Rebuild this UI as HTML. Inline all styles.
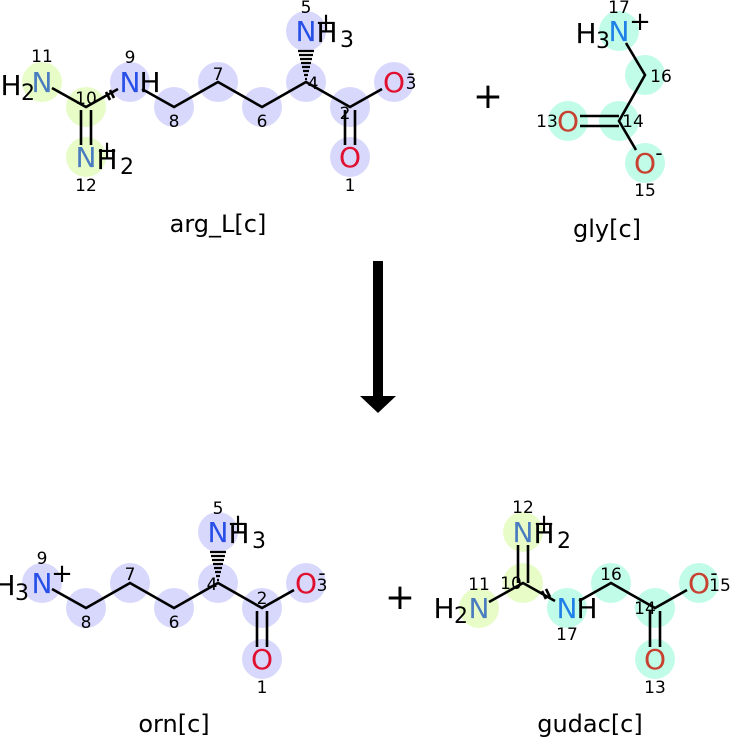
<!DOCTYPE html>
<html><head><style>body{margin:0;background:#fff}svg{display:block}</style></head><body>
<svg width="730" height="739" viewBox="0 0 730 739" xmlns="http://www.w3.org/2000/svg" font-family="DejaVu Sans, Liberation Sans, sans-serif">
<g fill="#d8d8fc">
<circle cx="130" cy="82" r="20"/><circle cx="174" cy="107" r="20"/><circle cx="218" cy="82" r="20"/><circle cx="262" cy="107" r="20"/><circle cx="306" cy="82" r="20"/><circle cx="306" cy="31" r="20"/><circle cx="350" cy="107" r="20"/><circle cx="394" cy="82" r="20"/><circle cx="350" cy="157" r="20"/>
<circle cx="42" cy="583" r="20"/><circle cx="86" cy="608" r="20"/><circle cx="130" cy="583" r="20"/><circle cx="174" cy="608" r="20"/><circle cx="218" cy="583" r="20"/><circle cx="218" cy="532" r="20"/><circle cx="262" cy="608" r="20"/><circle cx="306" cy="583" r="20"/><circle cx="262" cy="659" r="20"/>
</g>
<g fill="#e8fcc8">
<circle cx="42" cy="82" r="20"/><circle cx="86" cy="107" r="20"/><circle cx="86" cy="157" r="20"/>
<circle cx="523" cy="532" r="20"/><circle cx="523" cy="583" r="20"/><circle cx="479" cy="608" r="20"/>
</g>
<g fill="#c0fce8">
<circle cx="619" cy="31" r="20"/><circle cx="645" cy="75" r="20"/><circle cx="619" cy="121" r="20"/><circle cx="568" cy="121" r="20"/><circle cx="645" cy="163" r="20"/>
<circle cx="567" cy="608" r="20"/><circle cx="611" cy="583" r="20"/><circle cx="655" cy="608" r="20"/><circle cx="699" cy="583" r="20"/><circle cx="655" cy="659" r="20"/>
</g>
<g stroke="#000" stroke-width="2.6" fill="none">
<path d="M52 88 L86 107 L118 89"/><path d="M81 110 V145 M91 110 V145"/><path d="M106 92 L110 100 M110 90 L114 98"/>
<path d="M142 89 L174 107 L218 82 L262 107 L306 82 L350 107 L382 89"/><path d="M345 110 V145 M355 110 V145"/>
<path d="M626 43 L645 75 L619 121 L636 150"/><path d="M580 116 H619 M580 126 H619"/>
<path d="M52 589 L86 608 L130 583 L174 608 L218 583 L262 608 L294 590"/><path d="M257 611 V647 M267 611 V647"/>
<path d="M518 545 V583 M528 545 V583"/><path d="M489 602 L523 583 L555 601"/><path d="M542 591 L546 599 M546 589 L550 597"/>
<path d="M579 601 L611 583 L655 608 L687 590"/><path d="M650 611 V647 M660 611 V647"/>
</g>
<g stroke="#000" stroke-width="2.2"><path d="M305 79H307M304 75H308M303 71H309M302 67H310M301 63H311M300 59H312M299 55H313M298 51H314"/>
<path d="M217 580H219M216 576H220M215 572H221M214 568H222M213 564H223M212 560H224M211 556H225M210 552H226"/></g>
<g font-size="28" text-anchor="middle">
<text x="42" y="92" fill="#4a7cc0">N</text><text x="11" y="95" fill="#000">H</text><text x="28" y="100" font-size="22" fill="#000">2</text>
<text x="86" y="167" fill="#4a7cc0">N</text><text x="107" y="169" fill="#000">H</text><text x="127" y="174" font-size="22">2</text><text x="107" y="159" font-size="26">+</text>
<text x="130" y="92" fill="#2850e8">N</text><text x="150" y="92">H</text>
<text x="306" y="41" fill="#2850e8">N</text><text x="327" y="42">H</text><text x="347" y="47" font-size="22">3</text><text x="326" y="31" font-size="26">+</text>
<text x="394" y="92" fill="#e01030">O</text><text x="411" y="80" font-size="20">-</text>
<text x="350" y="167" fill="#e01030">O</text>
<text x="619" y="41" fill="#2080e8">N</text><text x="586" y="43">H</text><text x="603" y="48" font-size="22">3</text><text x="640" y="30" font-size="26">+</text>
<text x="568" y="131" fill="#c84030">O</text>
<text x="645" y="173" fill="#c84030">O</text><text x="659" y="160" font-size="20">-</text>
<text x="42" y="593" fill="#2850e8">N</text><text x="5" y="595">H</text><text x="22" y="600" font-size="22">3</text><text x="62" y="582" font-size="26">+</text>
<text x="218" y="542" fill="#2850e8">N</text><text x="239" y="543">H</text><text x="259" y="548" font-size="22">3</text><text x="238" y="532" font-size="26">+</text>
<text x="306" y="593" fill="#e01030">O</text><text x="322" y="580" font-size="20">-</text>
<text x="262" y="669" fill="#e01030">O</text>
<text x="523" y="542" fill="#4a7cc0">N</text><text x="544" y="543">H</text><text x="564" y="548" font-size="22">2</text><text x="544" y="532" font-size="26">+</text>
<text x="479" y="618" fill="#4a7cc0">N</text><text x="444" y="618">H</text><text x="461" y="623" font-size="22">2</text>
<text x="567" y="618" fill="#2080e8">N</text><text x="587" y="618">H</text>
<text x="699" y="593" fill="#c84030">O</text><text x="714" y="580" font-size="20">-</text>
<text x="655" y="669" fill="#c84030">O</text>
</g>
<g font-size="17" text-anchor="middle" fill="#000">
<text x="42" y="62">11</text><text x="86" y="104">10</text><text x="86" y="191">12</text><text x="130" y="63">9</text><text x="174" y="127">8</text><text x="218" y="80">7</text><text x="262" y="127">6</text><text x="313" y="89">4</text><text x="306" y="13">5</text><text x="345" y="119">2</text><text x="411" y="89">3</text><text x="350" y="191">1</text>
<text x="619" y="13">17</text><text x="661" y="82">16</text><text x="633" y="127">14</text><text x="547" y="127">13</text><text x="645" y="196">15</text>
<text x="42" y="564">9</text><text x="86" y="628">8</text><text x="130" y="580">7</text><text x="174" y="628">6</text><text x="212" y="590">4</text><text x="218" y="514">5</text><text x="262" y="604">2</text><text x="322" y="591">3</text><text x="262" y="693">1</text>
<text x="523" y="513">12</text><text x="511" y="589">10</text><text x="479" y="590">11</text><text x="567" y="640">17</text><text x="611" y="580">16</text><text x="645" y="614">14</text><text x="720" y="591">15</text><text x="655" y="693">13</text>
</g>
<g font-size="24" text-anchor="middle">
<text x="218" y="232">arg_L[c]</text><text x="607" y="237">gly[c]</text><text x="174" y="732">orn[c]</text><text x="590" y="732">gudac[c]</text>
<text x="488" y="108" font-size="36">+</text><text x="400" y="609" font-size="36">+</text>
</g>
<rect x="373" y="261" width="10" height="137" fill="#000"/>
<path d="M360 396 H396 L378 413 Z" fill="#000"/>
</svg>
</body></html>
